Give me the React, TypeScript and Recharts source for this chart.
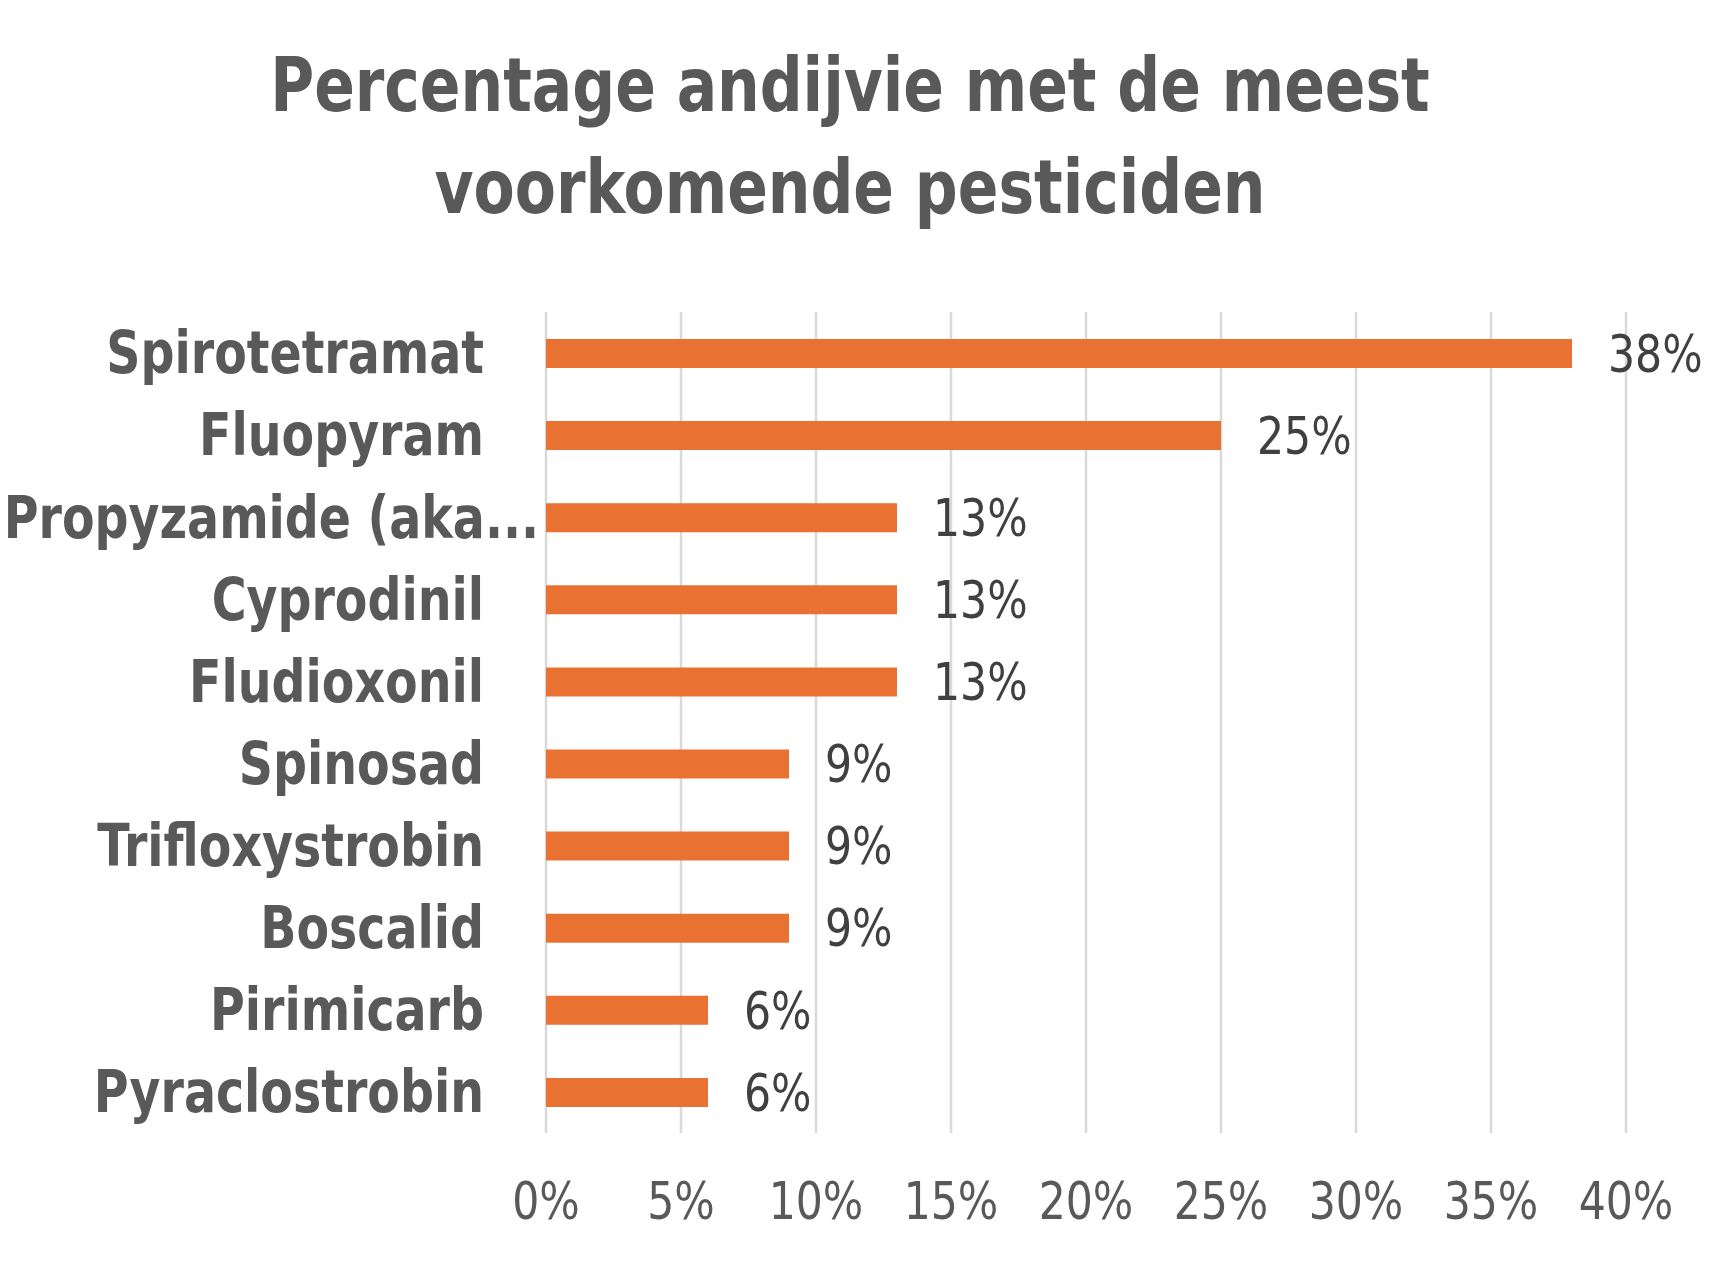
import { Bar, BarChart, CartesianGrid, LabelList, XAxis, YAxis } from 'recharts'

const categories = [
  'Spirotetramat',
  'Fluopyram',
  'Propyzamide (aka...',
  'Cyprodinil',
  'Fludioxonil',
  'Spinosad',
  'Trifloxystrobin',
  'Boscalid',
  'Pirimicarb',
  'Pyraclostrobin',
]
const percentages = [38, 25, 13, 13, 13, 9, 9, 9, 6, 6]
const xTicks = [0, 5, 10, 15, 20, 25, 30, 35, 40]
const titleLines = ['Percentage andijvie met de meest', 'voorkomende pesticiden']

const data = categories.map((name, i) => ({ name, value: percentages[i] }))

// no narrow font installed, so condensed DejaVu gets squeezed a little more
const narrow = "'Liberation Sans Narrow', 'DejaVu Sans Condensed', 'Arial Narrow', sans-serif"
const squeeze = 0.91

const CategoryTick = (props: any) => {
  const { x, y, payload } = props
  const label: string = payload.value
  // Excel pushes the truncated label right up against the axis
  const tx = label.endsWith('...') ? x + 55 : x
  return (
    <text
      transform={`translate(${tx},${y}) scale(${squeeze},1)`}
      dy="0.35em"
      textAnchor="end"
      fill="#595959"
      fontFamily={narrow}
      fontWeight={700}
      fontSize={58}
    >
      {label}
    </text>
  )
}

const PercentTick = (props: any) => {
  const { x, y, payload } = props
  return (
    <text
      transform={`translate(${x},${y}) scale(${squeeze},1)`}
      dy="0.35em"
      textAnchor="middle"
      fill="#595959"
      fontFamily={narrow}
      fontSize={52}
    >
      {`${payload.value}%`}
    </text>
  )
}

const ValueLabel = (props: any) => {
  const { x, y, width, height, value } = props
  return (
    <text
      transform={`translate(${x + width + 36},${y + height / 2}) scale(${squeeze},1)`}
      dy="0.35em"
      textAnchor="start"
      fill="#404040"
      fontFamily={narrow}
      fontSize={52}
    >
      {`${value}%`}
    </text>
  )
}

export default function App() {
  return (
    <div style={{ position: 'absolute', left: 0, top: 0, width: 1718, height: 1268, background: '#fff' }}>
      <div
        style={{
          position: 'absolute',
          left: -6,
          top: 34,
          width: 1712,
          textAlign: 'center',
          fontFamily: narrow,
          fontWeight: 700,
          fontSize: 74,
          lineHeight: '102px',
          color: '#595959',
          transform: 'scaleX(0.9)',
          transformOrigin: '856px 0',
        }}
      >
        {titleLines.map((line) => (
          <div key={line}>{line}</div>
        ))}
      </div>
      <BarChart
        width={1718}
        height={1268}
        data={data}
        layout="vertical"
        margin={{ top: 312, right: 92, left: 0, bottom: 35 }}
      >
        <CartesianGrid horizontal={false} vertical={true} stroke="#d9d9d9" strokeWidth={2.5} />
        <XAxis
          type="number"
          domain={[0, 40]}
          ticks={xTicks}
          axisLine={false}
          tickLine={false}
          tickSize={0}
          tickMargin={68}
          height={100}
          interval={0}
          tick={<PercentTick />}
        />
        <YAxis
          type="category"
          dataKey="name"
          width={546}
          axisLine={false}
          tickLine={false}
          tickSize={0}
          tickMargin={62}
          interval={0}
          tick={<CategoryTick />}
        />
        <Bar dataKey="value" fill="#E97132" barSize={29} isAnimationActive={false}>
          <LabelList dataKey="value" content={<ValueLabel />} />
        </Bar>
      </BarChart>
    </div>
  )
}
